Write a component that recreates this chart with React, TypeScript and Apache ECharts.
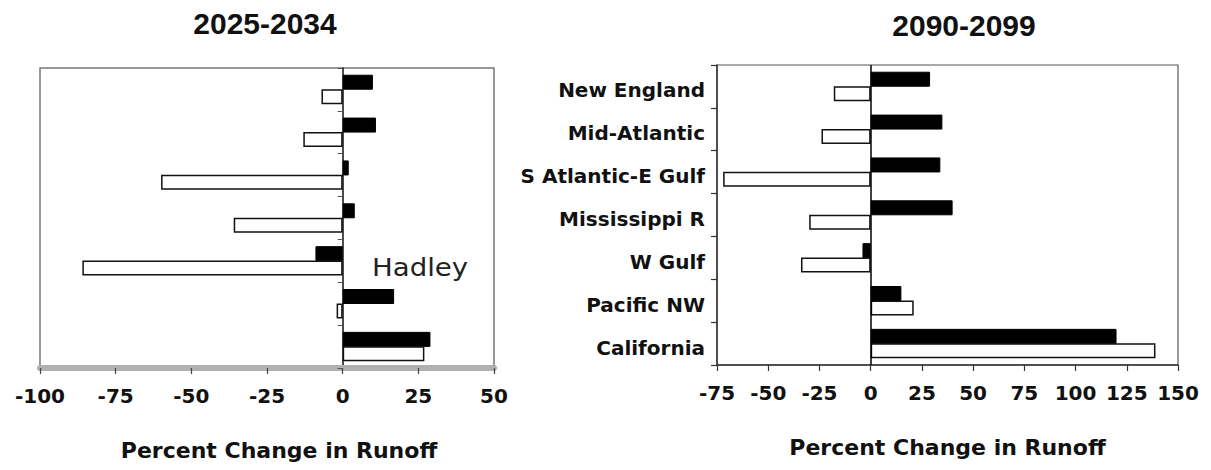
import { useEffect, useRef } from "react";
import * as echarts from "echarts";

// Water resource regions, listed top to bottom
const regions = [
  "New England",
  "Mid-Atlantic",
  "S Atlantic-E Gulf",
  "Mississippi R",
  "W Gulf",
  "Pacific NW",
  "California",
];

// Percent change in runoff, 2025-2034
const hadley2030 = [10, 11, 2, 4, -9, 17, 29];
const canadian2030 = [-7, -13, -60, -36, -86, -2, 27];

// Percent change in runoff, 2090-2099
const hadley2095 = [29, 35, 34, 40, -4, 15, 120];
const canadian2095 = [-18, -24, -72, -30, -34, 21, 139];

const periodTitles = ["2025-2034", "2090-2099"];
const axisTitle = "Percent Change in Runoff";

const LABEL_FONT = "DejaVu Sans";
const TITLE_FONT = "Liberation Sans";
const INK = "#111";

function buildOption(): echarts.EChartsOption {
  const tickLabel = {
    margin: 18,
    fontFamily: LABEL_FONT,
    fontWeight: "bold" as const,
    fontSize: 20,
    color: INK,
  };
  const nameStyle = {
    fontFamily: LABEL_FONT,
    fontWeight: "bold" as const,
    fontSize: 22,
    color: INK,
  };
  const darkBar = {
    type: "bar" as const,
    barWidth: 15,
    barGap: "-4%",
    itemStyle: { color: "#000", borderColor: "#000", borderWidth: 1 },
  };
  const lightBar = {
    type: "bar" as const,
    barWidth: 15,
    barGap: "-4%",
    itemStyle: { color: "#fff", borderColor: "#111", borderWidth: 1.5 },
  };

  return {
    animation: false,
    backgroundColor: "#fff",
    grid: [
      {
        left: 40,
        top: 68,
        width: 454,
        height: 300,
        show: true,
        borderColor: "#777",
        borderWidth: 1.5,
        containLabel: false,
      },
      {
        left: 717,
        top: 65,
        width: 461,
        height: 300,
        show: true,
        borderColor: "#555",
        borderWidth: 1.2,
        containLabel: false,
      },
    ],
    xAxis: [
      {
        gridIndex: 0,
        type: "value",
        min: -100,
        max: 50,
        interval: 25,
        axisLine: { show: true, onZero: false, lineStyle: { color: "#b0b0b0", width: 6 } },
        axisTick: { show: true, length: 6, lineStyle: { color: "#444", width: 1.2 } },
        axisLabel: tickLabel,
        splitLine: { show: false },
        name: axisTitle,
        nameLocation: "middle",
        nameGap: 71,
        nameTextStyle: { ...nameStyle, padding: [0, 0, 0, 24] },
      },
      {
        gridIndex: 1,
        type: "value",
        min: -75,
        max: 150,
        interval: 25,
        axisLine: { show: true, onZero: false, lineStyle: { color: "#333", width: 1.5 } },
        axisTick: { show: true, length: 6, lineStyle: { color: "#333", width: 1.2 } },
        axisLabel: tickLabel,
        splitLine: { show: false },
        name: axisTitle,
        nameLocation: "middle",
        nameGap: 71,
        nameTextStyle: nameStyle,
      },
    ],
    yAxis: [
      {
        gridIndex: 0,
        type: "category",
        data: regions,
        inverse: true,
        axisLine: { show: true, onZero: true, lineStyle: { color: "#111", width: 1.5 } },
        axisTick: { show: true, length: 5, lineStyle: { color: "#555", width: 1 } },
        axisLabel: { show: false },
        splitLine: { show: false },
      },
      {
        gridIndex: 1,
        type: "category",
        data: regions,
        inverse: true,
        axisLine: { show: true, onZero: false, lineStyle: { color: "#333", width: 1.5 } },
        axisTick: { show: true, length: 6, lineStyle: { color: "#333", width: 1.2 } },
        axisLabel: {
          margin: 12,
          fontFamily: LABEL_FONT,
          fontWeight: "bold",
          fontSize: 20,
          color: INK,
          verticalAlign: "top",
          lineHeight: 8,
        },
        splitLine: { show: false },
      },
    ],
    series: [
      { ...darkBar, name: "Hadley", xAxisIndex: 0, yAxisIndex: 0, data: hadley2030 },
      { ...lightBar, name: "Canadian", xAxisIndex: 0, yAxisIndex: 0, data: canadian2030 },
      {
        ...darkBar,
        name: "Hadley",
        xAxisIndex: 1,
        yAxisIndex: 1,
        data: hadley2095,
        markLine: {
          silent: true,
          symbol: ["none", "none"],
          label: { show: false },
          lineStyle: { color: "#000", type: "solid", width: 1.5 },
          data: [{ xAxis: 0 }],
        },
      },
      { ...lightBar, name: "Canadian", xAxisIndex: 1, yAxisIndex: 1, data: canadian2095 },
    ],
    graphic: [
      {
        type: "text",
        x: 265,
        y: 23,
        style: {
          text: periodTitles[0],
          align: "center",
          verticalAlign: "middle",
          fontFamily: TITLE_FONT,
          fontWeight: "bold",
          fontSize: 30,
          fill: INK,
        },
      },
      {
        type: "text",
        x: 964,
        y: 25,
        style: {
          text: periodTitles[1],
          align: "center",
          verticalAlign: "middle",
          fontFamily: TITLE_FONT,
          fontWeight: "bold",
          fontSize: 30,
          fill: INK,
        },
      },
      {
        type: "text",
        x: 372,
        y: 268,
        scaleX: 1.15,
        style: {
          text: "Hadley",
          verticalAlign: "middle",
          fontFamily: LABEL_FONT,
          fontSize: 24,
          fill: "#222",
        },
      },
    ],
  };
}

export default function App() {
  const ref = useRef<HTMLDivElement>(null);

  useEffect(() => {
    if (!ref.current) return;
    const chart = echarts.init(ref.current, null, { renderer: "svg" });
    chart.setOption(buildOption());
    return () => chart.dispose();
  }, []);

  return (
    <div
      ref={ref}
      style={{
        position: "absolute",
        left: 0,
        top: 0,
        width: 1211,
        height: 470,
        background: "#fff",
      }}
    />
  );
}
